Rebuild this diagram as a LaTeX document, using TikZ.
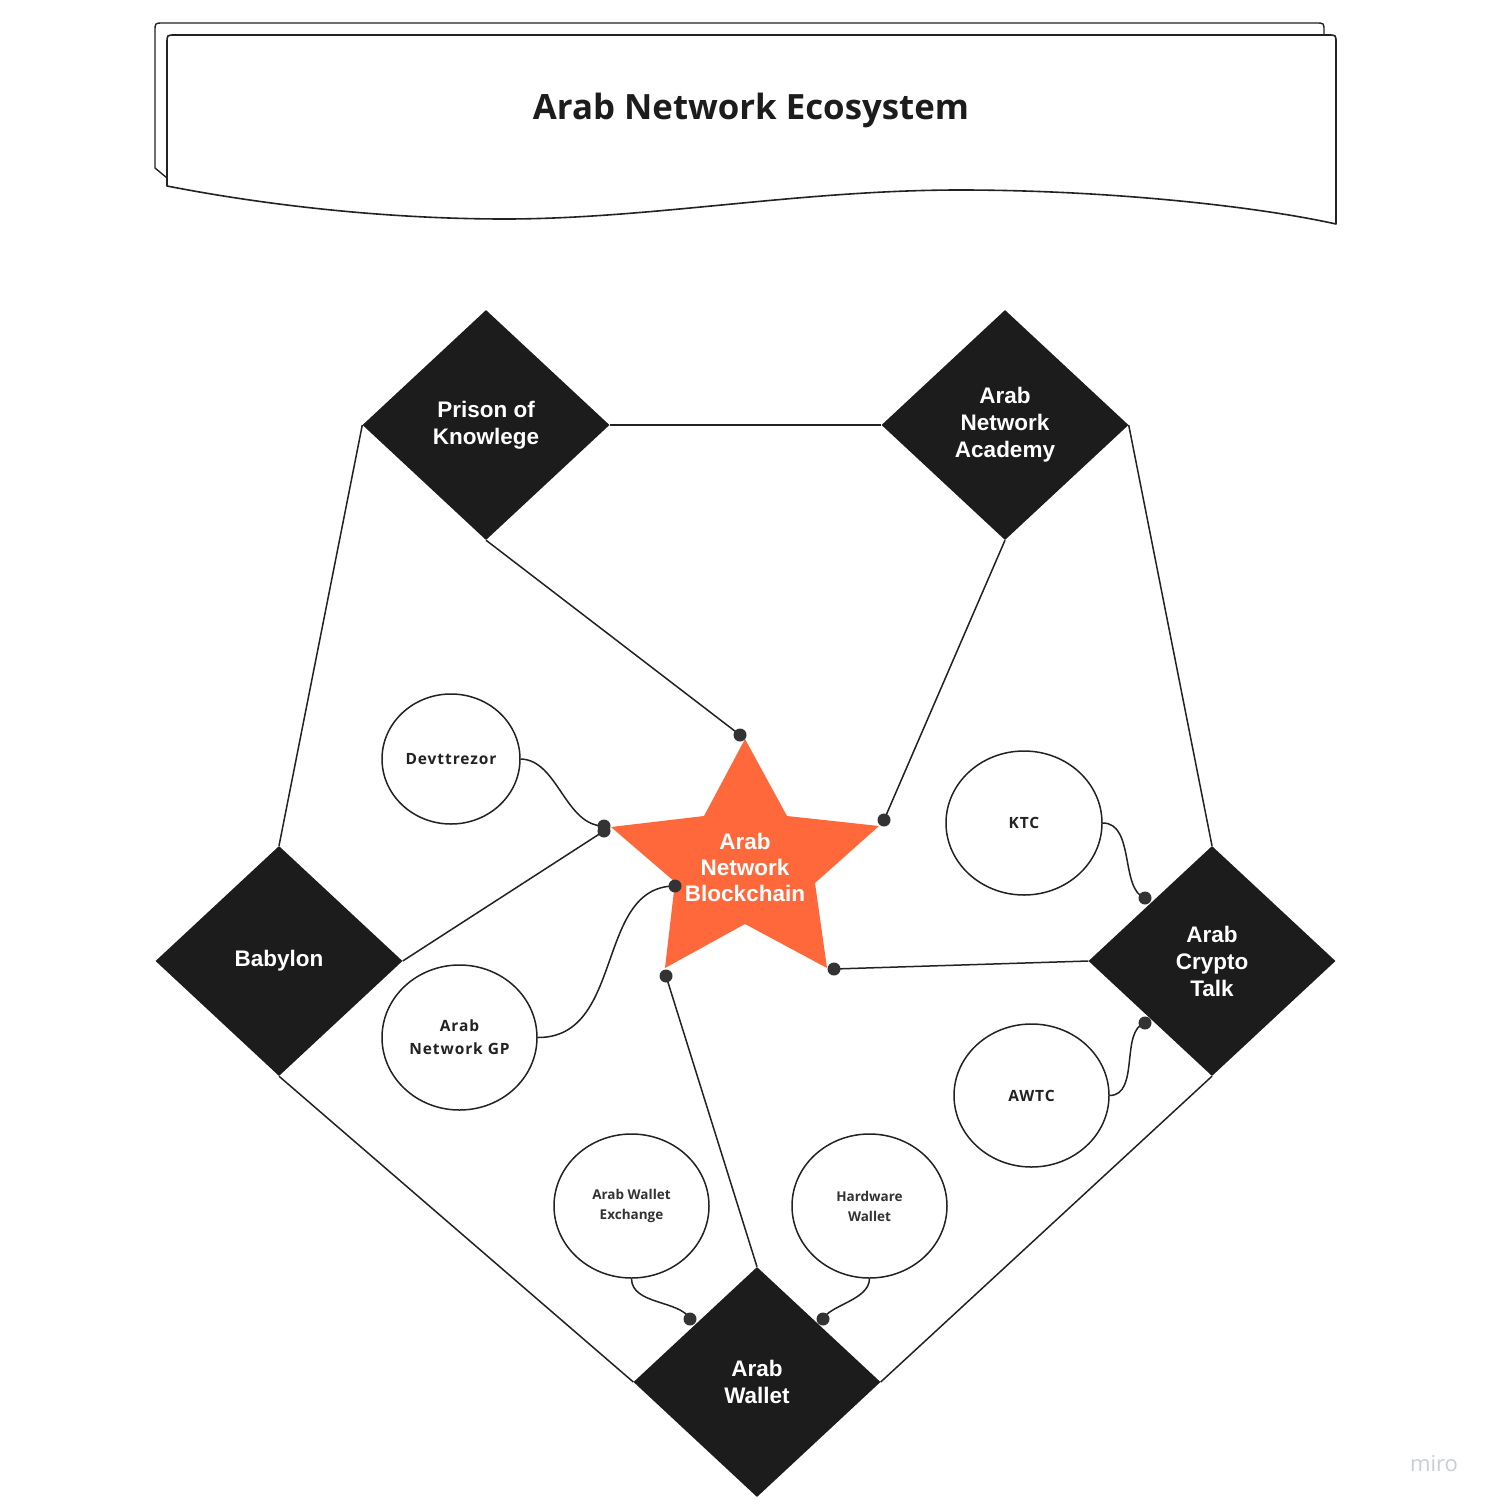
\documentclass[tikz,border=0pt]{standalone}
\usepackage{fontspec}
\setmainfont{Liberation Sans}
\newfontfamily\osans{Open Sans}
\newfontfamily\osansw[LetterSpace=6]{Open Sans}
\usetikzlibrary{shapes.geometric}
\definecolor{ink}{HTML}{222222}
\definecolor{dia}{HTML}{1C1C1C}
\definecolor{starc}{HTML}{FF683B}
\definecolor{dotc}{HTML}{333333}
\definecolor{logo}{HTML}{C9CED6}
\begin{document}
\begin{tikzpicture}[x=1pt,y=-1pt,
  conn/.style={draw=ink, line width=1.5pt},
  dianode/.style={diamond, fill=dia, minimum width=247pt, minimum height=230pt, inner sep=0pt,
    text=white, font=\bfseries\fontsize{22.5}{27}\selectfont, align=center},
  circ/.style={ellipse, draw=ink, line width=1.5pt, fill=white, inner sep=0pt, align=center,
    font=\osansw\bfseries\fontsize{15.5}{23}\selectfont, text=ink},
  circsmall/.style={circ, font=\osans\bfseries\fontsize{13.5}{20}\selectfont, text=dotc},
  dotmark/.style={fill=dotc}
]
\useasboundingbox (0,0) rectangle (1492,1507);
\fill[white] (0,0) rectangle (1492,1507);

% banner
\draw[ink, line width=1.4pt, line cap=round, line join=round]
  (167,178) -- (155,168) -- (155,31) .. controls (155,23) .. (163,23) -- (1316,23)
  .. controls (1324,23) .. (1324,31) -- (1324,40);
\filldraw[fill=white, draw=ink, line width=1.6pt, line join=round]
  (167,186) -- (167,43) .. controls (167,35) .. (175,35) -- (1328,35)
  .. controls (1336,35) .. (1336,43) -- (1336,224)
  .. controls (1250,205) and (1100,190) .. (960,190)
  .. controls (800,190) and (650,219) .. (505,219)
  .. controls (400,219) and (280,208) .. (167,186) -- cycle;
\node[font=\osans\bfseries\fontsize{34.8}{40}\selectfont, text=dia] (title) at (751,110) {Arab Network Ecosystem};

% diamonds
\node[dianode] (pok) at (486,425) {Prison of\\Knowlege};
\node[dianode] (ana) at (1005,425) {Arab\\Network\\Academy};
\node[dianode] (bab) at (279,961) {Babylon};
\node[dianode] (act) at (1212,961) {Arab\\Crypto\\Talk};
\node[dianode] (aw) at (757,1382) {Arab\\Wallet};

% star
\fill[starc] (745,739) -- (787,816) -- (879,826) -- (815,883) -- (827,968)
  -- (745,924) -- (665,968) -- (675,882) -- (611,827) -- (704,816) -- cycle;
\node[text=white, font=\bfseries\fontsize{22.5}{26}\selectfont, align=center] (anb) at (745,867) {Arab\\Network\\Blockchain};

% circles
\node[circ, minimum width=138pt, minimum height=130pt] (dev) at (451,759) {Devttrezor};
\node[circ, minimum width=155pt, minimum height=145pt] (gp) at (459.5,1037.5) {Arab\\Network GP};
\node[circ, minimum width=156pt, minimum height=144pt] (ktc) at (1024,823) {KTC};
\node[circ, minimum width=155pt, minimum height=143pt] (awtc) at (1031.5,1095.5) {AWTC};
\node[circsmall, minimum width=155pt, minimum height=144pt] (awe) at (631.5,1206) {Arab Wallet\\Exchange};
\node[circsmall, minimum width=155pt, minimum height=144pt] (hw) at (869.5,1206) {Hardware\\Wallet};

% dot coordinates
\coordinate (s1) at (740,735);
\coordinate (s2) at (604,826);
\coordinate (s3) at (604,831);
\coordinate (s4) at (884,820);
\coordinate (s5) at (675,886);
\coordinate (s6) at (666,976);
\coordinate (s7) at (834,969);
\coordinate (k1) at (1145,898);
\coordinate (k2) at (1145,1023);
\coordinate (w1) at (690,1319);
\coordinate (w2) at (823,1319);

% outer connectors
\draw[conn] (pok.east) -- (ana.west);
\draw[conn] (pok.west) -- (bab.north);
\draw[conn] (ana.east) -- (act.north);
\draw[conn] (bab.south) -- (aw.west);
\draw[conn] (act.south) -- (aw.east);

% to star
\draw[conn] (pok.south) -- (s1);
\draw[conn] (ana.south) -- (s4);
\draw[conn] (bab.east) -- (s3);
\draw[conn] (act.west) -- (s7);
\draw[conn] (aw.north) -- (s6);
\draw[conn] (dev.east) .. controls (558,760) and (565,826) .. (s2);
\draw[conn] (gp.east) .. controls (625,1038) and (595,886) .. (s5);

% to satellites
\draw[conn] (ktc.east) .. controls (1135,823) and (1120,890) .. (k1);
\draw[conn] (awtc.east) .. controls (1140,1095) and (1120,1030) .. (k2);
\draw[conn] (awe.south) .. controls (632,1305) and (680,1300) .. (w1);
\draw[conn] (hw.south) .. controls (869,1300) and (830,1305) .. (w2);

% dots
\foreach \p in {s1,s2,s3,s4,s5,s6,s7,k1,k2,w1,w2}
  \fill[dotmark] (\p) circle (6.5pt);

\node[text=logo, font=\osans\fontsize{22}{24}\selectfont] (miro) at (1434,1464) {miro};
\end{tikzpicture}
\end{document}
